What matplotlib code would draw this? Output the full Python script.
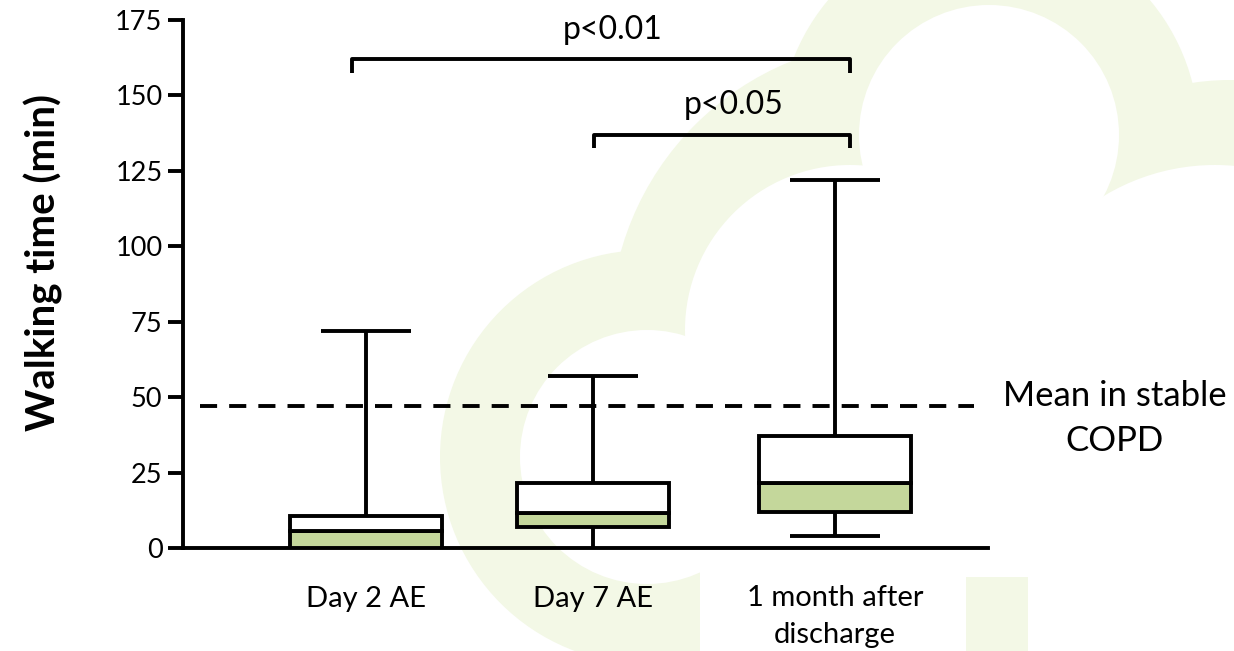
import matplotlib
matplotlib.use("Agg")
import matplotlib.pyplot as plt
from matplotlib.patches import Circle, Polygon, Rectangle

# ---------------- data ----------------
categories = ["Day 2 AE", "Day 7 AE", "1 month after\ndischarge"]
whisker_low = [0, 0, 4]
q1 = [0, 7, 12]
median = [5.5, 11.7, 21.5]
q3 = [10.5, 21.5, 37]
whisker_high = [72, 57, 122]
stable_mean = 47
y_ticks = [0, 25, 50, 75, 100, 125, 150, 175]
comparisons = [(0, 2, "p<0.01"), (1, 2, "p<0.05")]

# ---------------- layout ----------------
W, H = 1234, 651
plt.rcParams['font.family'] = ['Lato', 'DejaVu Sans']
fig = plt.figure(figsize=(W / 100, H / 100), dpi=100)

# watermark background (pixel coordinates)
bg = fig.add_axes([0, 0, 1, 1], zorder=0)
bg.set_xlim(0, W)
bg.set_ylim(H, 0)
bg.axis("off")
wm = "#f3f8e6"
for (cx, cy, r) in [(647, 457, 207), (900, 330, 290), (989, 135, 210), (1230, 330, 250)]:
    bg.add_patch(Circle((cx, cy), r, color=wm, lw=0))
for (cx, cy, r) in [(647, 457, 127), (850, 330, 165), (989, 135, 130), (1215, 380, 215)]:
    bg.add_patch(Circle((cx, cy), r, color="white", lw=0))
bg.add_patch(Polygon([(647, 457), (700, 300), (850, 200), (989, 250), (1150, 180),
                      (1234, 200), (1234, 651), (700, 651), (700, 520)],
                     closed=True, color="white", lw=0))
bg.add_patch(Rectangle((966, 577), 62, 80, color=wm, lw=0))

ax = fig.add_axes([183 / W, (H - 548) / H, 805 / W, 528 / H], zorder=1)
ax.patch.set_alpha(0)

positions = [0.807, 1.808, 2.875]
half_box = 0.335
half_cap = 0.2
lw = 2.8
green = "#c4d79b"

for i, x in enumerate(positions):
    # whiskers
    ax.vlines(x, q3[i], whisker_high[i], color="black", lw=lw, zorder=3)
    ax.hlines(whisker_high[i], x - half_cap, x + half_cap, color="black", lw=lw, zorder=3)
    if whisker_low[i] < q1[i]:
        ax.vlines(x, whisker_low[i], q1[i], color="black", lw=lw, zorder=3)
        if whisker_low[i] > 0:
            ax.hlines(whisker_low[i], x - half_cap, x + half_cap, color="black", lw=lw, zorder=3)
    # boxes
    ax.bar(x, median[i] - q1[i], bottom=q1[i], width=2 * half_box, color=green,
           edgecolor="black", linewidth=lw, zorder=4)
    ax.bar(x, q3[i] - median[i], bottom=median[i], width=2 * half_box, color="white",
           edgecolor="black", linewidth=lw, zorder=4)

# stable COPD mean
ax.plot([0.075, 3.49], [stable_mean, stable_mean], color="black", lw=lw,
        linestyle=(0, (4.4, 3.1)), zorder=2, clip_on=False)
ax.text(4.11, 43.0, "Mean in stable\nCOPD", ha="center", va="center", fontsize=25,
        linespacing=1.5, clip_on=False)

# significance brackets
bracket_y = [162, 137]
bracket_drop = 4.5
bracket_ends = {0: 0.745, 1: 1.812, 2: 2.941}
text_y = [171.7, 146.8]
for k, (a, b, lab) in enumerate(comparisons):
    xa, xb = bracket_ends[a], bracket_ends[b]
    yb = bracket_y[k]
    ax.plot([xa, xa, xb, xb], [yb - bracket_drop, yb, yb, yb - bracket_drop],
            color="black", lw=lw, clip_on=False, solid_capstyle="butt", zorder=3)
    ax.text((xa + xb) / 2 + 0.05, text_y[k], lab, ha="center", va="center",
            fontsize=23, clip_on=False)

ax.set_xlim(0, 3.55)
ax.set_ylim(0, 175)
ax.set_yticks(y_ticks)
ax.set_yticklabels([str(v) for v in y_ticks], fontsize=19.5)
ax.set_xticks(positions)
ax.set_xticklabels(categories, fontsize=21, va="top", linespacing=1.5)
ax.tick_params(axis="x", length=0, pad=27)
ax.tick_params(axis="y", length=10.8, width=lw, pad=4)
for s in ["top", "right"]:
    ax.spines[s].set_visible(False)
for s in ["left", "bottom"]:
    ax.spines[s].set_linewidth(lw)
ax.spines["left"].set_capstyle("projecting")
ax.set_ylabel("Walking time (min)", fontsize=29, fontweight="bold")
ax.yaxis.set_label_coords(-120 / 805, 0.54)

fig.savefig("out.png", dpi=100)
